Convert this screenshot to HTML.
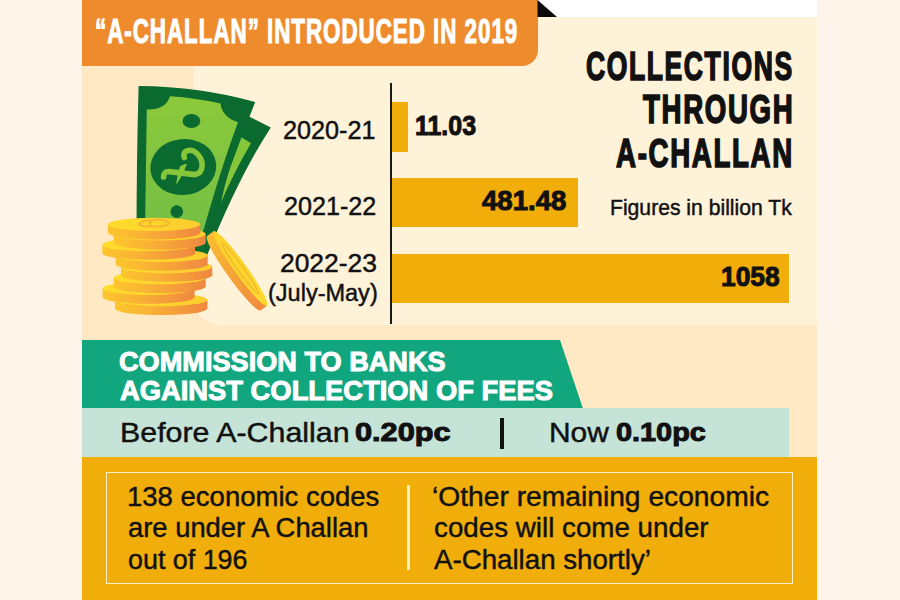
<!DOCTYPE html>
<html>
<head>
<meta charset="utf-8">
<title>A-Challan collections</title>
<style>
html,body{margin:0;padding:0}
body{width:900px;height:600px;position:relative;overflow:hidden;background:#fff4e9;font-family:"Liberation Sans",sans-serif}
.a{position:absolute}
.t{position:absolute;white-space:nowrap;line-height:1;transform-origin:0 0;font-family:"Liberation Sans",sans-serif}
</style>
</head>
<body>
<!-- panel -->
<div class="a" style="left:82px;top:0;width:735px;height:17px;background:#fff"></div>
<div class="a" style="left:82px;top:17px;width:735px;height:323px;background:#fee9c4"></div>
<div class="a" style="left:193px;top:17px;width:624px;height:307.5px;background:#fef2d9;border-bottom-left-radius:28px"></div>
<!-- header -->
<div class="a" style="left:82px;top:0;width:455.5px;height:65.8px;background:#ee8c2d;border-bottom-right-radius:16px"></div>
<svg class="a" style="left:537px;top:0" width="22" height="18" viewBox="0 0 22 18"><path d="M0.5 0 L0.5 17 L20 17 Z" fill="#0b0b0b"/></svg>

<!-- chart -->
<div class="a" style="left:390.2px;top:83px;width:1.6px;height:241px;background:#1a1a1a"></div>
<div class="a" style="left:391.8px;top:102.4px;width:16.4px;height:50px;background:#f1ae0b"></div>
<div class="a" style="left:391.8px;top:177.6px;width:186.6px;height:49.4px;background:#f1ae0b"></div>
<div class="a" style="left:391.8px;top:254px;width:397.2px;height:49.4px;background:#f1ae0b"></div>

<!-- money illustration -->
<!--MONEY--><svg class="a" style="left:90px;top:75px" width="200" height="255" viewBox="90 75 200 255">
<defs>
<linearGradient id="cs" x1="0" y1="0" x2="1" y2="0"><stop offset="0" stop-color="#fcc62c"/><stop offset="0.4" stop-color="#f9b036"/><stop offset="1" stop-color="#f08740"/></linearGradient>
<linearGradient id="ct" x1="0" y1="0" x2="1" y2="0"><stop offset="0" stop-color="#fedd2b"/><stop offset="1" stop-color="#fccc2e"/></linearGradient>
<linearGradient id="lc" x1="0" y1="0" x2="1" y2="0"><stop offset="0" stop-color="#fcd12c"/><stop offset="1" stop-color="#fcd92c"/></linearGradient>
<linearGradient id="ng" x1="0" y1="0" x2="0" y2="1"><stop offset="0" stop-color="#8cc93a"/><stop offset="1" stop-color="#74bf45"/></linearGradient>
<linearGradient id="ls" x1="0" y1="0" x2="1" y2="0"><stop offset="0" stop-color="#fbbd31"/><stop offset="1" stop-color="#f08a3f"/></linearGradient>
</defs>
<!-- back note -->
<path d="M236 110 L270.8 127.4 Q238 178 206 258 L170 258 Z" fill="#0b6a2f"/>
<path d="M241 137 L251 143.3 Q234 172 221 202.6 Q228 168 241 137 Z" fill="#86c63a"/>
<!-- front note -->
<path d="M138.6 86 Q200 86.5 255.2 102 Q230 165 205 240 L136.5 240 Q136.5 160 138.6 86 Z" fill="#0b6a2f"/>
<path d="M170 96.3 Q196 98 220.5 103.5 Q222 117 238 122.3 Q222 165 203 232 L145 232 L146.8 109.5 Q166 110 170 96.3 Z" fill="url(#ng)"/>
<ellipse cx="191.4" cy="121" rx="8.9" ry="6.9" fill="#0b6a2f"/>
<ellipse cx="183.3" cy="167" rx="33" ry="28" fill="#0b6a2f" transform="rotate(-6 183.3 167)"/>
<circle cx="176.8" cy="211.6" r="6.3" fill="#0b6a2f"/>
<!-- taka symbol -->
<path d="M184.3 157.5 C181.5 150.5 191 148 196.5 153 C204 160 204.5 172.8 195 174.6 L169.5 171.6 C164.8 171.2 163.4 174 163.6 177" fill="none" stroke="#86c63a" stroke-width="5.6" stroke-linecap="round" stroke-linejoin="round"/>
<path d="M180.4 166.5 L186.4 164 Q183 174.5 176.8 183.2 Q178 173.5 180.4 166.5 Z" fill="#86c63a" stroke="#86c63a" stroke-width="1"/>
<!-- coin stack (bottom to top) -->
<g>
<path d="M115 299.7 L115 308.5 A46.2 6.6 0 0 0 207.4 308.5 L207.4 299.7 Z" fill="url(#cs)"/><ellipse cx="161.2" cy="299.7" rx="46.2" ry="6.6" fill="url(#ct)"/>
<path d="M102.6 288.3 L102.6 297.1 A46.0 6.6 0 0 0 194.6 297.1 L194.6 288.3 Z" fill="url(#cs)"/><ellipse cx="148.6" cy="288.3" rx="46.0" ry="6.6" fill="url(#ct)"/>
<path d="M113.7 277.7 L113.7 286.5 A46.0 6.6 0 0 0 205.7 286.5 L205.7 277.7 Z" fill="url(#cs)"/><ellipse cx="159.7" cy="277.7" rx="46.0" ry="6.6" fill="url(#ct)"/>
<path d="M121 266.7 L121 275.5 A45.7 6.6 0 0 0 212.3 275.5 L212.3 266.7 Z" fill="url(#cs)"/><ellipse cx="166.7" cy="266.7" rx="45.7" ry="6.6" fill="url(#ct)"/>
<path d="M115.7 255.4 L115.7 264.2 A46.0 6.6 0 0 0 207.7 264.2 L207.7 255.4 Z" fill="url(#cs)"/><ellipse cx="161.7" cy="255.4" rx="46.0" ry="6.6" fill="url(#ct)"/>
<path d="M102.3 244.7 L102.3 253.5 A46.4 6.6 0 0 0 195 253.5 L195 244.7 Z" fill="url(#cs)"/><ellipse cx="148.7" cy="244.7" rx="46.4" ry="6.6" fill="url(#ct)"/>
<path d="M113.7 234.0 L113.7 242.8 A46.0 6.6 0 0 0 205.7 242.8 L205.7 234.0 Z" fill="url(#cs)"/><ellipse cx="159.7" cy="234.0" rx="46.0" ry="6.6" fill="url(#ct)"/>
<path d="M108 224.3 L108 233.10000000000002 A46.2 6.6 0 0 0 200.3 233.10000000000002 L200.3 224.3 Z" fill="url(#cs)"/><ellipse cx="154.2" cy="224.3" rx="46.2" ry="6.6" fill="url(#ct)"/>
<path d="M139 224.5 q3 -4.5 12 -3.8 q8 -2.6 15 0.2 q6 2.4 0 4.6 q-7 2 -15 0.4 q-8 1.6 -12 -1.4z M151 220.7 q-2 2.5 0 5.2" fill="none" stroke="#f3b631" stroke-width="2"/>
</g>
<!-- leaning coin -->
<g transform="translate(240.3 268.5) rotate(54.3)">
<path d="M-45.85 0 L-45.85 8 A45.85 6.2 0 0 0 45.85 8 L45.85 0 Z" fill="url(#ls)"/>
<ellipse cx="0" cy="0" rx="45.85" ry="6.2" fill="url(#lc)"/>
<ellipse cx="0" cy="0" rx="31" ry="2.8" fill="none" stroke="#efb42f" stroke-width="1.1"/>
</g>
</svg><!--/MONEY-->

<!-- lower section -->
<div class="a" style="left:82px;top:340px;width:735px;height:118px;background:#fee9c4"></div>
<svg class="a" style="left:82px;top:339.5px" width="510" height="70" viewBox="0 0 510 70"><path d="M0 0 L478 0 L501 68.8 L0 68.8 Z" fill="#12a67f"/></svg>
<div class="a" style="left:82px;top:408.3px;width:707px;height:48.9px;background:#c5e3d7"></div>
<div class="a" style="left:499.6px;top:418px;width:4.6px;height:31px;background:#111"></div>
<div class="a" style="left:82px;top:457.2px;width:735px;height:143px;background:#f1ae0b"></div>
<div class="a" style="left:105.7px;top:472.2px;width:687.5px;height:111.6px;border:1.6px solid #fdefc6;box-sizing:border-box"></div>
<div class="a" style="left:407.4px;top:484.6px;width:2.6px;height:85.4px;background:#fdefc6"></div>

<div class="t" style="left:94.93px;top:13.70px;font-size:34.64px;font-weight:700;color:#fff;-webkit-text-stroke:1.1px #fff;letter-spacing:1.5px;transform:scaleX(0.6463)">“A-CHALLAN” INTRODUCED IN 2019</div>
<div class="t" style="left:585.81px;top:45.70px;font-size:41.01px;font-weight:700;color:#111;-webkit-text-stroke:1.7px #111;letter-spacing:2.5px;transform:scaleX(0.6463)">COLLECTIONS</div>
<div class="t" style="left:642.75px;top:89.20px;font-size:41.01px;font-weight:700;color:#111;-webkit-text-stroke:1.7px #111;letter-spacing:2.5px;transform:scaleX(0.6736)">THROUGH</div>
<div class="t" style="left:616.49px;top:132.50px;font-size:41.01px;font-weight:700;color:#111;-webkit-text-stroke:1.7px #111;letter-spacing:2.5px;transform:scaleX(0.6736)">A-CHALLAN</div>
<div class="t" style="left:415.25px;top:112.20px;font-size:28.12px;font-weight:700;color:#111;-webkit-text-stroke:1.0px #111;transform:scaleX(0.8871)">11.03</div>
<div class="t" style="left:481.51px;top:187.20px;font-size:27.83px;font-weight:700;color:#111;-webkit-text-stroke:1.0px #111;transform:scaleX(0.9911)">481.48</div>
<div class="t" style="left:721.20px;top:263.40px;font-size:27.83px;font-weight:700;color:#111;-webkit-text-stroke:1.0px #111;transform:scaleX(0.9467)">1058</div>
<div class="t" style="left:610.21px;top:196.80px;font-size:21.96px;font-weight:400;color:#111;-webkit-text-stroke:0.45px #111;transform:scaleX(0.9630)">Figures in billion Tk</div>
<div class="t" style="left:283.23px;top:118.40px;font-size:25.43px;font-weight:400;color:#111;-webkit-text-stroke:0.45px #111;transform:scaleX(0.9921)">2020-21</div>
<div class="t" style="left:283.85px;top:193.00px;font-size:26.16px;font-weight:400;color:#111;-webkit-text-stroke:0.45px #111;transform:scaleX(0.9606)">2021-22</div>
<div class="t" style="left:279.77px;top:251.40px;font-size:25.43px;font-weight:400;color:#111;-webkit-text-stroke:0.45px #111;transform:scaleX(1.0387)">2022-23</div>
<div class="t" style="left:268.28px;top:282.30px;font-size:23.41px;font-weight:400;color:#111;-webkit-text-stroke:0.45px #111;transform:scaleX(1.0044)">(July-May)</div>
<div class="t" style="left:118.98px;top:348.40px;font-size:27.54px;font-weight:700;color:#fff;-webkit-text-stroke:1.0px #fff;transform:scaleX(0.9856)">COMMISSION TO BANKS</div>
<div class="t" style="left:119.64px;top:377.00px;font-size:27.54px;font-weight:700;color:#fff;-webkit-text-stroke:1.0px #fff;transform:scaleX(0.9930)">AGAINST COLLECTION OF FEES</div>
<div class="t" style="left:119.59px;top:418.60px;font-size:27.17px;font-weight:400;color:#111;-webkit-text-stroke:0.45px #111;transform:scaleX(1.1182)">Before A-Challan</div>
<div class="t" style="left:355.34px;top:418.80px;font-size:26.67px;font-weight:700;color:#111;-webkit-text-stroke:1.0px #111;transform:scaleX(1.1519)">0.20pc</div>
<div class="t" style="left:548.62px;top:418.60px;font-size:27.17px;font-weight:400;color:#111;-webkit-text-stroke:0.45px #111;transform:scaleX(1.1015)">Now</div>
<div class="t" style="left:616.38px;top:418.80px;font-size:26.67px;font-weight:700;color:#111;-webkit-text-stroke:1.0px #111;transform:scaleX(1.0826)">0.10pc</div>
<div class="t" style="left:127.49px;top:483.20px;font-size:27.32px;font-weight:400;color:#111;-webkit-text-stroke:0.45px #111;transform:scaleX(1.0074)">138 economic codes</div>
<div class="t" style="left:128.44px;top:514.30px;font-size:27.32px;font-weight:400;color:#111;-webkit-text-stroke:0.45px #111;transform:scaleX(1.0022)">are under A Challan</div>
<div class="t" style="left:128.47px;top:545.70px;font-size:27.32px;font-weight:400;color:#111;-webkit-text-stroke:0.45px #111;transform:scaleX(0.9834)">out of 196</div>
<div class="t" style="left:431.90px;top:483.00px;font-size:27.32px;font-weight:400;color:#111;-webkit-text-stroke:0.45px #111;transform:scaleX(1.0329)">‘Other remaining economic</div>
<div class="t" style="left:433.82px;top:514.30px;font-size:27.32px;font-weight:400;color:#111;-webkit-text-stroke:0.45px #111;transform:scaleX(1.0161)">codes will come under</div>
<div class="t" style="left:434.44px;top:545.90px;font-size:27.32px;font-weight:400;color:#111;-webkit-text-stroke:0.45px #111;transform:scaleX(1.0135)">A-Challan shortly’</div>
</body>
</html>
